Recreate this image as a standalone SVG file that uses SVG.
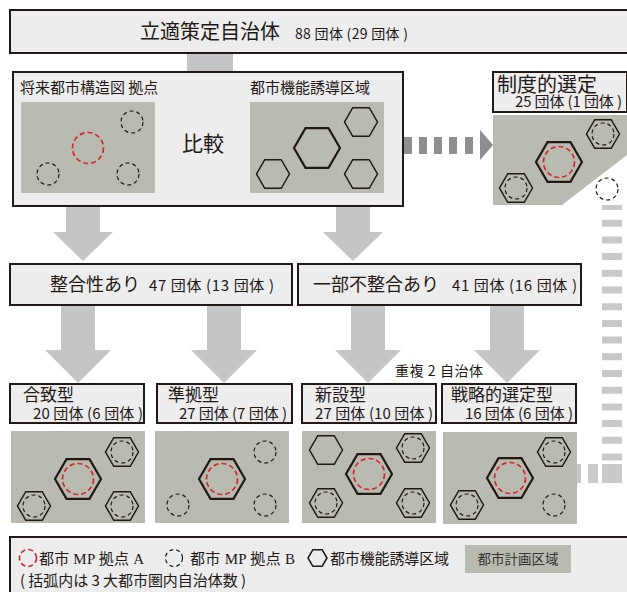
<svg xmlns="http://www.w3.org/2000/svg" width="627" height="592" viewBox="0 0 627 592">
<style>
.box{fill:#ededed;stroke:#231815;stroke-width:2}
.panel{fill:#b9bbb1}
.arrow{fill:#c4c5c7}
.darr{fill:#8d8e90}
.hexL{fill:none;stroke:#231815;stroke-width:2.2}
.hexS{fill:none;stroke:#231815;stroke-width:1.5}
.cr{fill:none;stroke:#d7282f;stroke-width:1.7;stroke-dasharray:5 3}
.cb{fill:none;stroke:#231815;stroke-width:1.2;stroke-dasharray:4 3}
text{font-family:"Noto Sans CJK JP","Noto Sans",sans-serif;fill:#231815}
.t20{font-size:20px}
.t18{font-size:18px}
.t17{font-size:17px}
.t15{font-size:15px}
.t14{font-size:14px}
.serif{font-family:"Liberation Serif","Noto Sans CJK JP",serif}
</style>
<defs>
<polygon id="hL" class="hexL" points="23,0 11.5,19.9 -11.5,19.9 -23,0 -11.5,-19.9 11.5,-19.9"/>
<polygon id="hS" class="hexS" points="16.5,0 8.25,14.3 -8.25,14.3 -16.5,0 -8.25,-14.3 8.25,-14.3"/>
<circle id="cR" class="cr" r="15.5"/>
<circle id="cB" class="cb" r="11"/>
</defs>

<g id="connectors">
<rect class="arrow" x="187" y="52" width="46" height="21"/>
<polygon class="arrow" points="66,206 100,206 100,232 113,232 83,261 53,232 66,232"/>
<polygon class="arrow" points="336,206 370,206 370,232 383,232 353,261 323,232 336,232"/>
<polygon class="arrow" points="61,305 95,305 95,350 111,350 78,383 45,350 61,350"/>
<polygon class="arrow" points="207,305 241,305 241,350 257,350 224,383 191,350 207,350"/>
<polygon class="arrow" points="351,305 385,305 385,350 401,350 368,383 335,350 351,350"/>
<polygon class="arrow" points="490,305 524,305 524,350 540,350 507,383 474,350 490,350"/>
<g class="darr">
<rect x="404" y="137" width="8" height="17"/>
<rect x="419" y="137" width="8" height="17"/>
<rect x="434" y="137" width="8" height="17"/>
<rect x="449" y="137" width="8" height="17"/>
<rect x="465" y="137" width="8" height="17"/>
<polygon points="480,130 493,145 480,160"/>
</g>
<line x1="612" y1="203" x2="612" y2="462" stroke="#c8c9cb" stroke-width="20" stroke-dasharray="7 9.7"/>
<g fill="#c8c9cb">
<rect x="602" y="464" width="20" height="19"/>
<rect x="588" y="464" width="10" height="19"/>
<rect x="570" y="464" width="11" height="19"/>
</g>
</g>

<g id="node-top">
<rect class="box" x="10" y="10" width="640" height="43"/>
<text class="t20" x="140" y="39">立適策定自治体</text>
<text class="t14" x="295" y="39" textLength="113">88 団体 (29 団体 )</text>
</g>

<g id="node-compare">
<rect class="box" x="13" y="72" width="390" height="134"/>
<text class="t15" x="20" y="93">将来都市構造図  拠点</text>
<text class="t15" x="250" y="93">都市機能誘導区域</text>
<rect class="panel" x="21" y="102" width="134" height="91"/>
<rect class="panel" x="250" y="102" width="134" height="91"/>
<use href="#cR" x="88" y="148"/>
<use href="#cB" x="132" y="122"/>
<use href="#cB" x="48" y="174"/>
<use href="#cB" x="128" y="174"/>
<text x="203" y="151" font-size="21" text-anchor="middle">比較</text>
<use href="#hL" x="317" y="148"/>
<use href="#hS" x="361" y="122"/>
<use href="#hS" x="361" y="174"/>
<use href="#hS" x="273" y="174"/>
</g>

<g id="node-seido">
<rect class="box" x="493" y="72" width="134" height="40"/>
<text class="t20" x="497" y="92">制度的選定</text>
<text class="t15" x="515" y="107" textLength="107">25 団体 (1 団体 )</text>
<rect class="panel" x="493" y="115" width="134" height="90"/>
<polygon points="562,205 627,155 627,205" fill="#ffffff"/>
<use href="#hL" x="559" y="162"/>
<use href="#cR" x="559" y="162"/>
<use href="#hS" x="603" y="134"/>
<use href="#cB" x="603" y="134"/>
<use href="#hS" x="516" y="188"/>
<use href="#cB" x="516" y="188"/>
<use href="#cB" x="607" y="189"/>
</g>

<g id="node-seigou">
<rect class="box" x="10" y="264" width="282" height="41"/>
<text class="t18" x="50" y="291">整合性あり</text>
<text class="t15" x="149" y="291" textLength="125">47 団体 (13 団体 )</text>
</g>

<g id="node-fuseigou">
<rect class="box" x="298" y="264" width="283" height="41"/>
<text class="t18" x="313" y="291">一部不整合あり</text>
<text class="t15" x="452" y="291" textLength="125">41 団体 (16 団体 )</text>
<text class="t14" x="395" y="376" textLength="88">重複 2 自治体</text>
</g>

<g id="node-gatchi">
<rect class="box" x="10" y="384" width="134" height="39"/>
<text class="t17" x="23" y="401">合致型</text>
<text class="t15" x="33" y="418.5" textLength="110">20 団体 (6 団体 )</text>
<rect class="panel" x="11" y="431" width="134" height="92"/>
<use href="#hL" x="78" y="479"/>
<use href="#cR" x="78" y="479"/>
<use href="#hS" x="122" y="452"/>
<use href="#cB" x="122" y="452"/>
<use href="#hS" x="34" y="506"/>
<use href="#cB" x="34" y="506"/>
<use href="#hS" x="122" y="506"/>
<use href="#cB" x="122" y="506"/>
</g>

<g id="node-junkyo">
<rect class="box" x="157" y="384" width="135" height="39"/>
<text class="t17" x="168" y="401">準拠型</text>
<text class="t15" x="179" y="418.5" textLength="108">27 団体 (7 団体 )</text>
<rect class="panel" x="155" y="431" width="134" height="92"/>
<use href="#hL" x="222" y="479"/>
<use href="#cR" x="222" y="479"/>
<use href="#cB" x="265" y="452"/>
<use href="#cB" x="178" y="505"/>
<use href="#cB" x="265" y="505"/>
</g>

<g id="node-shinsetsu">
<rect class="box" x="302" y="384" width="134" height="39"/>
<text class="t17" x="315" y="401">新設型</text>
<text class="t15" x="315" y="418.5" textLength="118">27 団体 (10 団体 )</text>
<rect class="panel" x="302" y="431" width="134" height="92"/>
<use href="#hS" x="326" y="450"/>
<use href="#hL" x="369" y="474"/>
<use href="#cR" x="369" y="474"/>
<use href="#hS" x="413" y="448"/>
<use href="#cB" x="413" y="448"/>
<use href="#hS" x="326" y="503"/>
<use href="#cB" x="326" y="503"/>
<use href="#hS" x="413" y="503"/>
<use href="#cB" x="413" y="503"/>
</g>

<g id="node-senryaku">
<rect class="box" x="442" y="384" width="134" height="39"/>
<text class="t17" x="451" y="401">戦略的選定型</text>
<text class="t15" x="465" y="418.5" textLength="108">16 団体 (6 団体 )</text>
<rect class="panel" x="443" y="432" width="134" height="92"/>
<use href="#hL" x="510" y="478"/>
<use href="#cR" x="510" y="478"/>
<use href="#hS" x="554" y="452"/>
<use href="#cB" x="554" y="452"/>
<use href="#hS" x="467" y="505"/>
<use href="#cB" x="467" y="505"/>
<use href="#cB" x="554" y="505"/>
</g>

<g id="legend">
<rect class="box" x="10" y="537" width="640" height="70"/>
<circle class="cr" cx="28" cy="558" r="8.5" stroke-width="1.3" stroke-dasharray="3.5 2.5"/>
<text class="t15 serif" x="39" y="564" textLength="105">都市 MP 拠点 A</text>
<circle class="cb" cx="174" cy="558" r="8.5" stroke-dasharray="3.5 2.5"/>
<text class="t15 serif" x="190" y="564" textLength="105">都市 MP 拠点 B</text>
<polygon class="hexS" points="327,558 322.2,566.2 312.8,566.2 308,558 312.8,549.8 322.2,549.8"/>
<text class="t15" x="330" y="564" textLength="119">都市機能誘導区域</text>
<rect class="panel" x="465" y="545" width="106" height="28"/>
<text x="518" y="564" font-size="13.5" text-anchor="middle" style="fill:#333">都市計画区域</text>
<text class="t15" x="20" y="586" textLength="226">( 括弧内は 3 大都市圏内自治体数 )</text>
</g>
</svg>
